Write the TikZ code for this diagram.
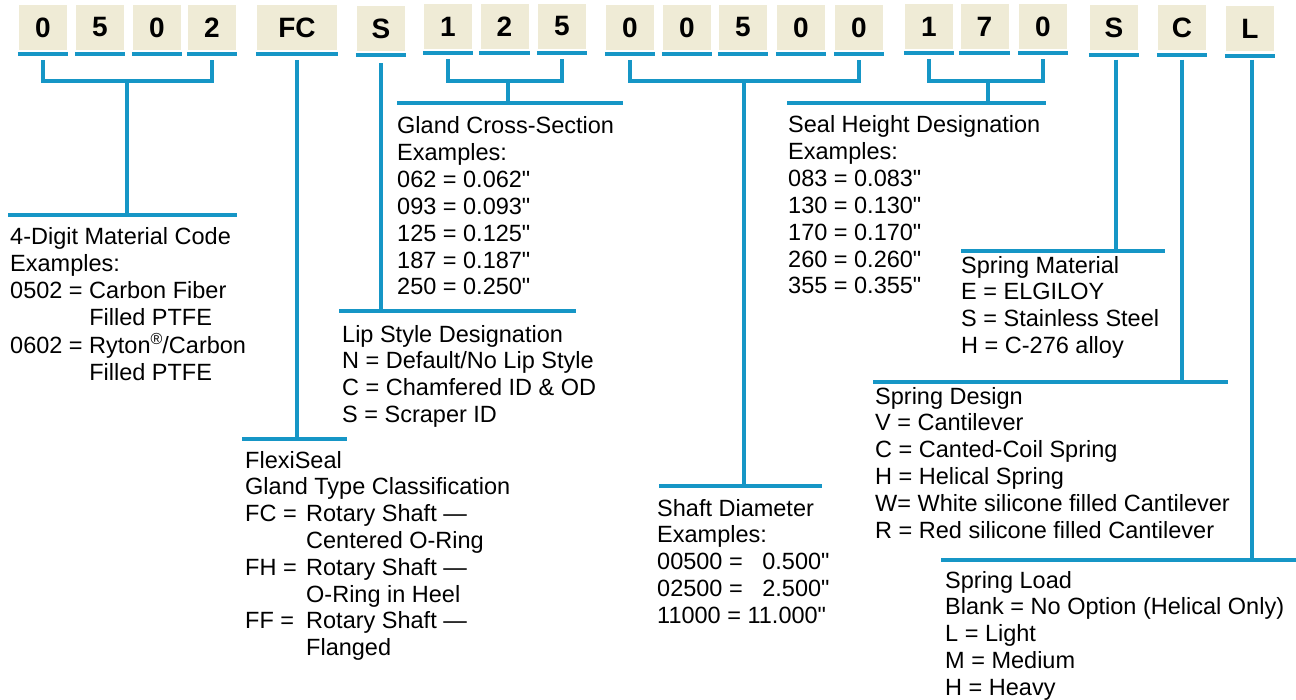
\documentclass[tikz,border=0pt]{standalone}
\usepackage{fontspec}
\setmainfont{Liberation Sans}[Ligatures=TeXOff]
\definecolor{bluebar}{RGB}{22,150,198}
\definecolor{beige}{RGB}{239,235,214}
\newcommand\desclines[1]{\begin{tabular}[t]{@{}l@{}}#1\end{tabular}}
\newcommand\inch{"}
\newcommand\regmark{\raisebox{0.38em}{\fontsize{16bp}{16bp}\selectfont ®}}
\tikzset{
  digit/.style={fill=beige, minimum width=48bp, minimum height=45bp, inner sep=0pt,
    font=\fontsize{28bp}{30bp}\selectfont\bfseries},
  ubar/.style={draw=bluebar, line width=4bp},
  conn/.style={draw=bluebar, line width=3.5bp, line join=miter},
  lbar/.style={draw=bluebar, line width=3.5bp},
  desc/.style={anchor=base west, inner sep=0pt, font=\fontsize{23.5bp}{26.8bp}\selectfont},
}
\begin{document}
\begin{tikzpicture}[x=1bp,y=-1bp]
\useasboundingbox (0,0) rectangle (1296,700);
% code boxes
\node[digit] (b1) at (43,27.5) {\raisebox{-2bp}{0}};
\node[digit] (b2) at (100,27.5) {\raisebox{-2bp}{5}};
\node[digit] (b3) at (157,27.5) {\raisebox{-2bp}{0}};
\node[digit] (b4) at (212,27.5) {\raisebox{-2bp}{2}};
\node[digit, minimum width=80bp] (b5) at (297,27.5) {\raisebox{-2bp}{FC}};
\node[digit] (b6) at (381,28.5) {\raisebox{-2bp}{S}};
\node[digit] (b7) at (448,26.5) {\raisebox{-2bp}{1}};
\node[digit] (b8) at (504.5,26.5) {\raisebox{-2bp}{2}};
\node[digit] (b9) at (562,26.5) {\raisebox{-2bp}{5}};
\node[digit] (b10) at (630,27.5) {\raisebox{-2bp}{0}};
\node[digit] (b11) at (687,27.5) {\raisebox{-2bp}{0}};
\node[digit] (b12) at (743,27.5) {\raisebox{-2bp}{5}};
\node[digit] (b13) at (801,27.5) {\raisebox{-2bp}{0}};
\node[digit] (b14) at (859,27.5) {\raisebox{-2bp}{0}};
\node[digit] (b15) at (929,26.5) {\raisebox{-2bp}{1}};
\node[digit] (b16) at (984.5,26.5) {\raisebox{-2bp}{7}};
\node[digit] (b17) at (1043,26.5) {\raisebox{-2bp}{0}};
\node[digit] (b18) at (1114,28) {\raisebox{-2bp}{S}};
\node[digit] (b19) at (1182,28) {\raisebox{-2bp}{C}};
\node[digit] (b20) at (1250,29) {\raisebox{-2bp}{L}};
\foreach \n in {1,...,20}
  \draw[ubar] ([xshift=-1bp,yshift=-4bp]b\n.south west) -- ([xshift=1bp,yshift=-4bp]b\n.south east);

% label bars
\coordinate (m1l) at (8,215);   \coordinate (m1r) at (237,215);
\coordinate (g1l) at (397,103); \coordinate (g1r) at (623,103);
\coordinate (p1l) at (339,311); \coordinate (p1r) at (576,311);
\coordinate (f1l) at (242,439); \coordinate (f1r) at (347,439);
\coordinate (h1l) at (787,103); \coordinate (h1r) at (1046,103);
\coordinate (s1l) at (961,251); \coordinate (s1r) at (1165,251);
\coordinate (d1l) at (873,382); \coordinate (d1r) at (1228,382);
\coordinate (l1l) at (941,560); \coordinate (l1r) at (1296,560);
\coordinate (a1l) at (659,486); \coordinate (a1r) at (822,486);
\foreach \b in {m1,g1,p1,f1,h1,s1,d1,l1,a1}
  \draw[lbar] (\b l) -- (\b r);

% brackets and connectors
\coordinate (j1) at (127,81);
\draw[conn] ([yshift=-10bp]b1.south) |- (j1) -| ([yshift=-10bp]b4.south);
\draw[conn] (j1) -- (j1 |- m1l);
\draw[conn] ([yshift=-10bp]b5.south) -- (b5.south |- f1l);
\draw[conn] ([yshift=-12bp]b6.south) -- (b6.south |- p1l);
\coordinate (j2) at (508,81);
\draw[conn] ([yshift=-10bp]b7.south) |- (j2) -| ([yshift=-10bp]b9.south);
\draw[conn] (j2) -- (j2 |- g1l);
\coordinate (j3) at (744,81);
\draw[conn] ([yshift=-10bp]b10.south) |- (j3) -| ([yshift=-10bp]b14.south);
\draw[conn] (j3) -- (j3 |- a1l);
\coordinate (j4) at (988,81);
\draw[conn] ([yshift=-10bp]b15.south) |- (j4) -| ([yshift=-10bp]b17.south);
\draw[conn] (j4) -- (j4 |- h1l);
\draw[conn] ([xshift=2bp,yshift=-9bp]b18.south) -- ([xshift=2bp]b18.south |- s1l);
\draw[conn] ([yshift=-9bp]b19.south) -- (b19.south |- d1l);
\draw[conn] ([xshift=2bp,yshift=-8bp]b20.south) -- ([xshift=2bp]b20.south |- l1l);

% descriptions
\node[desc] (t1) at (10,245) {\desclines{4-Digit Material Code\\ Examples:\\
  0502 = Carbon Fiber\\ \phantom{0502 = }Filled PTFE\\
  0602 = Ryton\regmark/Carbon\\ \phantom{0602 = }Filled PTFE}};
\node[desc] (t2) at (397,134) {\desclines{Gland Cross-Section\\ Examples:\\
  062 = 0.062\inch\\ 093 = 0.093\inch\\ 125 = 0.125\inch\\ 187 = 0.187\inch\\ 250 = 0.250\inch}};
\node[desc] (t3) at (342,342) {\desclines{Lip Style Designation\\
  N = Default/No Lip Style\\ C = Chamfered ID \& OD\\ S = Scraper ID}};
\node[desc] (t4) at (245,468) {\desclines{FlexiSeal\\ Gland Type Classification\\
  \makebox[61bp][l]{FC =}Rotary Shaft —\\ \hspace*{61bp}Centered O-Ring\\
  \makebox[61bp][l]{FH =}Rotary Shaft —\\ \hspace*{61bp}O-Ring in Heel\\
  \makebox[61bp][l]{FF =}Rotary Shaft —\\ \hspace*{61bp}Flanged}};
\node[desc] (t5) at (788,133) {\desclines{Seal Height Designation\\ Examples:\\
  083 = 0.083\inch\\ 130 = 0.130\inch\\ 170 = 0.170\inch\\ 260 = 0.260\inch\\ 355 = 0.355\inch}};
\node[desc] (t6) at (961,273) {\desclines{Spring Material\\ E = ELGILOY\\
  S = Stainless Steel\\ H = C-276 alloy}};
\node[desc] (t7) at (875,404) {\desclines{Spring Design\\ V = Cantilever\\
  C = Canted-Coil Spring\\ H = Helical Spring\\
  W= White silicone filled Cantilever\\ R = Red silicone filled Cantilever}};
\node[desc] (t8) at (945,588) {\desclines{Spring Load\\
  Blank = No Option (Helical Only)\\ L = Light\\ M = Medium\\ H = Heavy}};
\node[desc] (t9) at (657,516) {\desclines{Shaft Diameter\\ Examples:\\
  00500 = \phantom{1}0.500\inch\\ 02500 = \phantom{1}2.500\inch\\ 11000 = 11.000\inch}};
\end{tikzpicture}
\end{document}
